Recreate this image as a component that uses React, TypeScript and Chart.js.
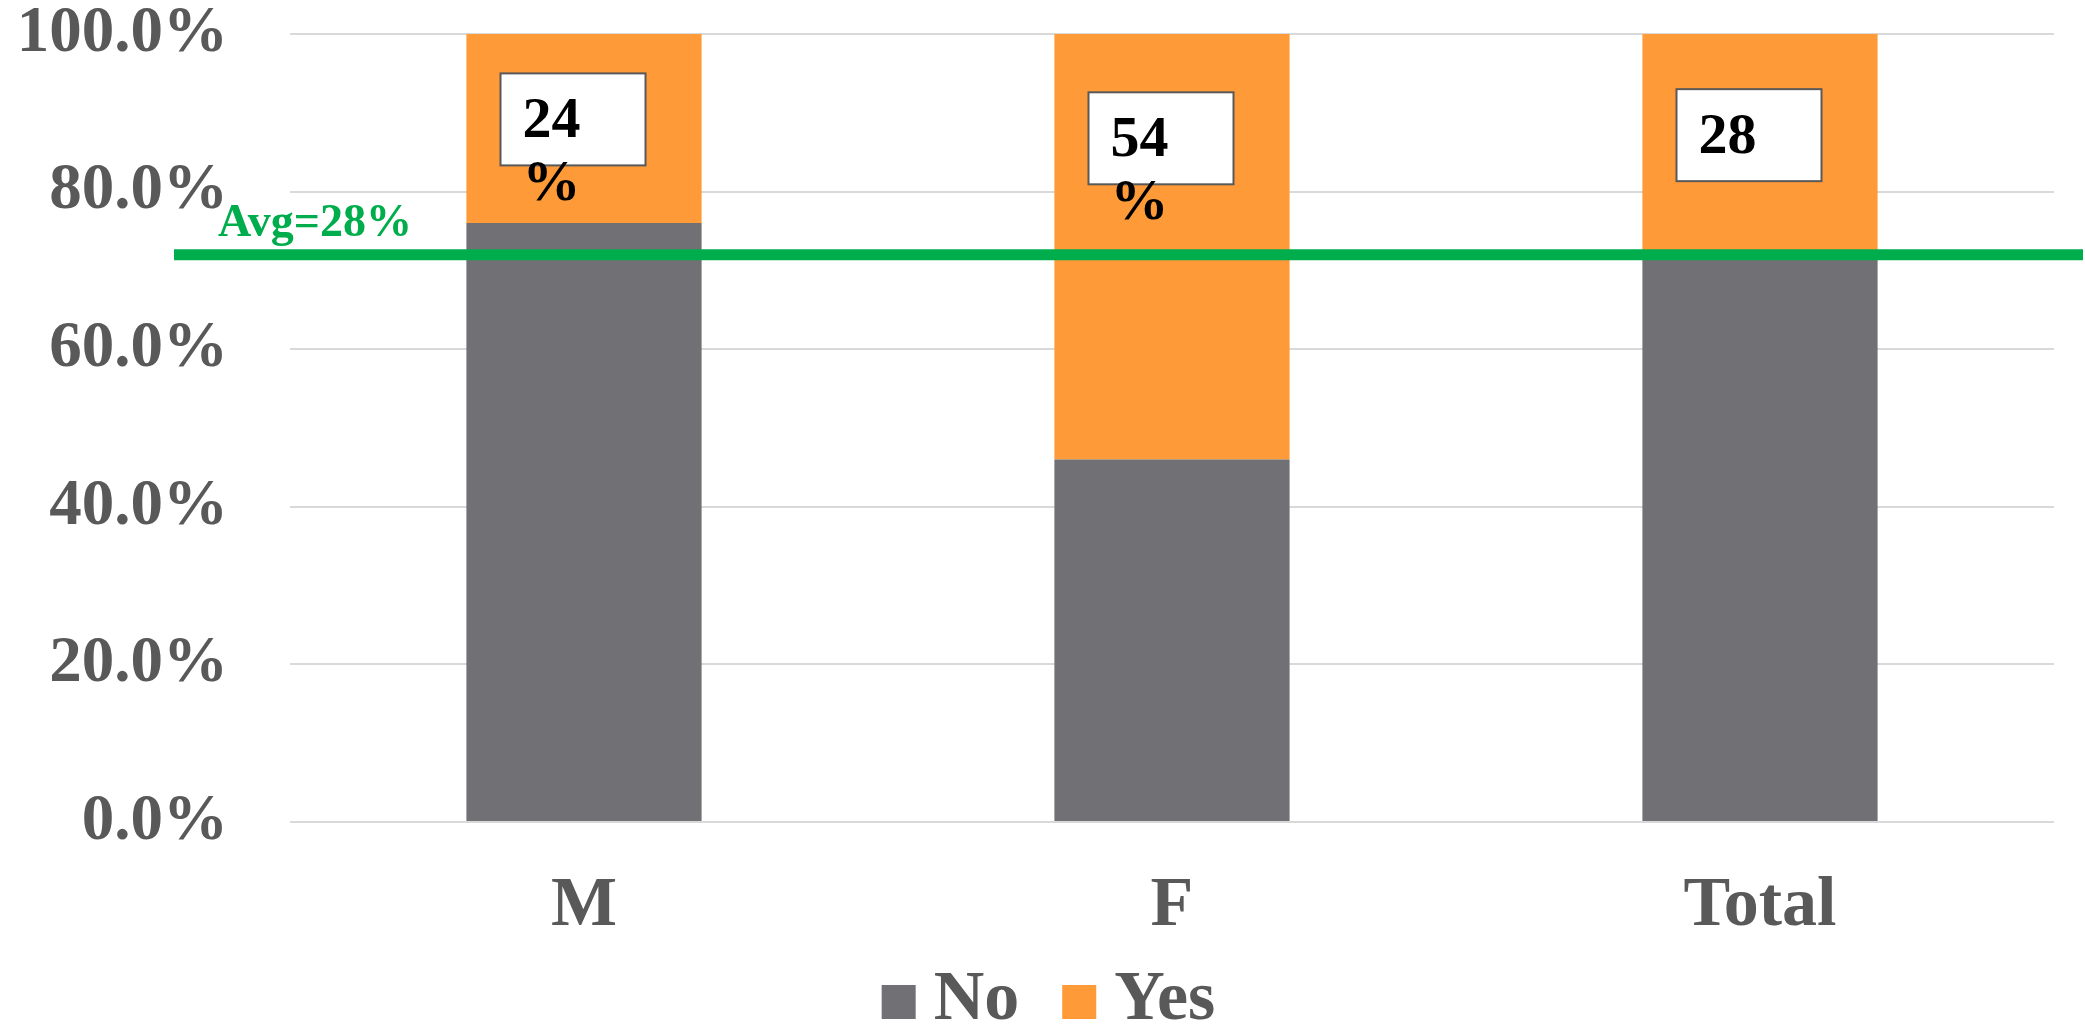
import React, { useEffect, useRef } from "react";
import { Chart, registerables } from "chart.js";

Chart.register(...registerables);

const categories = ["M", "F", "Total"];
const noValues = [76, 46, 72];
const yesValues = [24, 54, 28];
const dataLabels = ["24\n%", "54\n%", "28"];
const labelTopValues = [95, 92.6, 93];
const avgValue = 72;
const avgLabel = "Avg=28%";
const seriesNames = ["No", "Yes"];

const FONT = "'Liberation Serif', 'Times New Roman', serif";
const GRAY = "#717075";
const ORANGE = "#FE9A37";
const GREEN = "#00AD4C";
const TEXT = "#595959";

const overlayPlugin = {
  id: "overlay",
  afterDraw(chart: any) {
    const ctx = chart.ctx;
    const y = chart.scales.y;
    const meta = chart.getDatasetMeta(1);
    ctx.save();
    // data label boxes
    meta.data.forEach((bar: any, i: number) => {
      const w = 145;
      const h = 92;
      const left = bar.x - 11 - w / 2;
      const top = y.getPixelForValue(labelTopValues[i]);
      ctx.fillStyle = "#ffffff";
      ctx.fillRect(left, top, w, h);
      ctx.strokeStyle = "#595959";
      ctx.lineWidth = 2;
      ctx.strokeRect(left, top, w, h);
      ctx.fillStyle = "#000000";
      ctx.font = `bold 58px ${FONT}`;
      ctx.textAlign = "left";
      ctx.textBaseline = "alphabetic";
      dataLabels[i].split("\n").forEach((line, k) => {
        ctx.fillText(line, left + 22, top + 64 + k * 63);
      });
    });
    // average line
    const ay = y.getPixelForValue(avgValue);
    ctx.strokeStyle = GREEN;
    ctx.lineWidth = 11;
    ctx.beginPath();
    ctx.moveTo(174, ay);
    ctx.lineTo(2083, ay);
    ctx.stroke();
    ctx.fillStyle = GREEN;
    ctx.font = `bold 46px ${FONT}`;
    ctx.textAlign = "left";
    ctx.textBaseline = "alphabetic";
    ctx.fillText(avgLabel, 218, ay - 19);
    // legend
    ctx.font = `bold 70px ${FONT}`;
    const box = 34;
    const gap = 18;
    const itemGap = 43;
    const widths = seriesNames.map((n) => ctx.measureText(n).width);
    const total = widths.reduce((a, b) => a + box + gap + b, 0) + itemGap * (seriesNames.length - 1);
    let x = chart.width / 2 - total / 2 + 6;
    const baseY = chart.height - 9;
    const colors = [GRAY, ORANGE];
    seriesNames.forEach((n, i) => {
      ctx.fillStyle = colors[i];
      ctx.fillRect(x, baseY - box, box, box);
      x += box + gap;
      ctx.fillStyle = TEXT;
      ctx.fillText(n, x, baseY);
      x += widths[i] + itemGap;
    });
    ctx.restore();
  },
};

export default function App() {
  const ref = useRef<HTMLCanvasElement>(null);
  useEffect(() => {
    document.body.style.margin = "0";
    const chart = new Chart(ref.current as HTMLCanvasElement, {
      type: "bar",
      data: {
        labels: categories,
        datasets: [
          { label: seriesNames[0], data: noValues, backgroundColor: GRAY, barPercentage: 0.4, categoryPercentage: 1 },
          { label: seriesNames[1], data: yesValues, backgroundColor: ORANGE, barPercentage: 0.4, categoryPercentage: 1 },
        ],
      },
      options: {
        animation: false,
        responsive: false,
        layout: { padding: { left: 0, right: 31, top: 34, bottom: 0 } },
        plugins: { legend: { display: false }, tooltip: { enabled: false } },
        scales: {
          x: {
            stacked: true,
            grid: { display: false, drawTicks: false },
            border: { display: false },
            ticks: { color: TEXT, font: { family: FONT, size: 70, weight: "bold", lineHeight: 1 }, padding: 50 },
            afterFit: (s: any) => { s.height = 206; },
          },
          y: {
            stacked: true,
            min: 0,
            max: 100,
            grid: { color: "#d9d9d9", lineWidth: 2, drawTicks: true, tickLength: 62, tickColor: "rgba(0,0,0,0)" },
            border: { display: false },
            ticks: {
              stepSize: 20,
              color: TEXT,
              padding: 0,
              font: { family: FONT, size: 65, weight: "bold", lineHeight: 1 },
              callback: (v: any) => Number(v).toFixed(1) + "%",
            },
            afterFit: (s: any) => { s.width = 290; },
          },
        },
      },
      plugins: [overlayPlugin],
    });
    return () => chart.destroy();
  }, []);
  return (
    <div style={{ width: 2085, height: 1028 }}>
      <canvas ref={ref} width={2085} height={1028} style={{ display: "block" }} />
    </div>
  );
}
